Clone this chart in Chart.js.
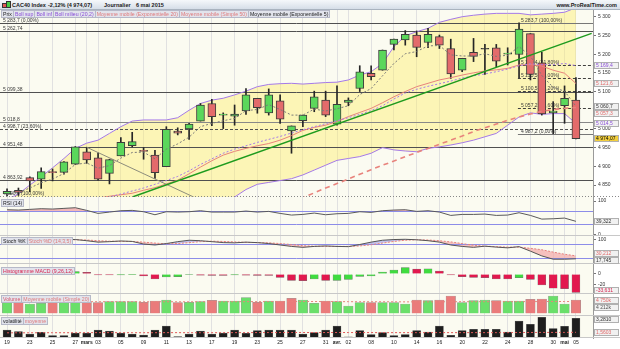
<!DOCTYPE html>
<html>
<head>
<meta charset="utf-8">
<script src="https://cdn.jsdelivr.net/npm/chart.js@4.4.1/dist/chart.umd.min.js"></script>
<style>
  body { margin:0; width:620px; height:349px; overflow:hidden; background:#fff; font-family:"Liberation Sans", Arial, sans-serif; }
  canvas { position:absolute; left:0; }
  #bar { position:absolute; left:0; top:0; width:620px; height:10px; box-sizing:border-box; background:linear-gradient(#f5f8fb,#d6dee8); border-bottom:1px solid #a9b3bf; }
  #bar span { position:absolute; top:2px; font-size:5.5px; line-height:6px; font-weight:bold; color:#1a1a1a; white-space:nowrap; }
  .row { position:absolute; left:1px; display:flex; }
  .tag { font-size:5.2px; line-height:6px; height:6px; padding:0 1px; background:rgba(224,226,236,0.93); border:1px solid #b6b9c8; margin-right:-1px; white-space:nowrap; color:#222; }
  .ic { position:absolute; width:3px; border:1px solid #333; }
</style>
</head>
<body>
<div id="bar">
  <div class="ic" style="left:2px;top:3px;height:3px;background:#e05555"></div>
  <div class="ic" style="left:6px;top:1px;height:5px;background:#44cc44"></div>
  <span style="left:12px">CAC40 Index</span>
  <span style="left:48px">-2,12% (4 974,07)</span>
  <span style="left:104px">Journalier</span>
  <span style="left:136px">6 mai 2015</span>
  <span style="right:3px;font-size:5.5px">www.ProRealTime.com</span>
</div>
<canvas id="cPrice" style="top:10px" width="620" height="187"></canvas>
<canvas id="cRsi" style="top:197px" width="620" height="39"></canvas>
<canvas id="cStoch" style="top:236px" width="620" height="28"></canvas>
<canvas id="cMacd" style="top:264px" width="620" height="30"></canvas>
<canvas id="cVol" style="top:294px" width="620" height="22"></canvas>
<canvas id="cVolat" style="top:316px" width="620" height="33"></canvas>

<div class="row" style="top:10px">
  <span class="tag">Prix</span>
  <span class="tag" style="color:#8a4fd6">Boll sup</span>
  <span class="tag" style="color:#8a4fd6">Boll inf</span>
  <span class="tag" style="color:#8a4fd6">Boll milieu (20,2)</span>
  <span class="tag" style="color:#e07a7a">Moyenne mobile (Exponentielle 20)</span>
  <span class="tag" style="color:#e07a7a">Moyenne mobile (Simple 50)</span>
  <span class="tag">Moyenne mobile (Exponentielle 5)</span>
</div>
<div class="row" style="top:199px"><span class="tag">RSI (14)</span></div>
<div class="row" style="top:237px"><span class="tag">Stoch %K</span><span class="tag" style="color:#e07a7a">Stoch %D (14,3,5)</span></div>
<div class="row" style="top:267px"><span class="tag" style="color:#d8244f">Histogramme MACD (9,26,12)</span></div>
<div class="row" style="top:295px"><span class="tag" style="color:#d8566a">Volume</span><span class="tag" style="color:#e07a7a">Moyenne mobile (Simple 20)</span></div>
<div class="row" style="top:317px"><span class="tag">volatilité</span><span class="tag" style="color:#e07a7a">moyenne</span></div>

<script>
// axe des dates (index de séance -> libellé)
const tickIdx = [0, 2, 4, 6, 7, 8, 10, 12, 14, 16, 18, 20, 22, 24, 26, 28, 29, 30, 32, 34, 36, 38, 40, 42, 44, 46, 48, 49, 50];
const tickLabels = ['19', '23', '25', '27', 'mars', '03', '05', '09', '11', '13', '17', '19', '23', '25', '27', '31', 'avr.', '02', '08', '10', '14', '16', '20', '22', '24', '28', '30', 'mai', '05'];

// bougies CAC40, 19 fév. -> 5 mai 2015
const open  = [4826, 4836, 4870, 4866, 4884, 4884, 4906, 4939, 4923, 4881, 4928, 4955, 4941, 4930, 4899, 4994, 5000, 5021, 5068, 5037, 5034, 5048, 5082, 5043, 5075, 4995, 5022, 5055, 5077, 5013, 5071, 5108, 5149, 5157, 5226, 5238, 5251, 5231, 5247, 5215, 5157, 5205, 5213, 5217, 5200, 5199, 5255, 5177, 5043, 5062, 5077];
const high  = [4840, 4842, 4872, 4896, 4893, 4913, 4953, 4951, 4936, 4919, 4977, 4991, 4950, 4943, 5006, 5003, 5015, 5068, 5079, 5043, 5064, 5108, 5082, 5107, 5091, 5008, 5037, 5101, 5101, 5115, 5083, 5169, 5169, 5211, 5240, 5263, 5262, 5269, 5251, 5240, 5189, 5242, 5226, 5226, 5217, 5283.7, 5255, 5205, 5073, 5115, 5137];
const low   = [4821, 4822, 4832, 4841, 4861, 4879, 4905, 4908, 4863, 4853, 4928, 4952, 4919, 4868, 4899, 4984, 4972, 5021, 5009, 5001, 5010, 5039, 5042, 5037, 5015, 4935, 5006, 5046, 5033, 5010, 5062, 5100, 5131, 5157, 5211, 5224, 5193, 5217, 5215, 5135, 5153, 5180, 5146, 5166, 5171, 5137, 5131, 5037, 4987.2, 5015, 4973];
const close = [4833, 4830, 4861, 4886, 4883, 4912, 4952, 4917, 4866, 4918, 4964, 4966, 4940, 4883, 4999, 4989, 5013, 5064, 5033, 5038, 5040, 5091, 5057, 5091, 5026, 5008, 5037, 5086, 5037, 5066, 5077, 5153, 5140, 5211, 5240, 5253, 5218, 5253, 5224, 5147, 5189, 5194, 5213, 5181, 5202, 5267, 5146, 5040, 5048, 5082, 4974.07];

// indicateurs
const bbUp  = [4812, 4826, 4850, 4872, 4896, 4921, 4948, 4962, 4970, 4988, 5006, 5021, 5024, 5024, 5024, 5030, 5050, 5068, 5077, 5082, 5091, 5101, 5113, 5119, 5121, 5122, 5120, 5122, 5124, 5125, 5131, 5144, 5153, 5175, 5220, 5249, 5260, 5269, 5285, 5293, 5300, 5304, 5307, 5309, 5309, 5309, 5305, 5307, 5309, 5312, 5324];
const bbMid = [4745, 4752, 4760, 4768, 4776, 4786, 4796, 4803, 4810, 4818, 4826, 4834, 4842, 4852, 4862, 4873, 4888, 4905, 4920, 4935, 4946, 4955, 4964, 4972, 4980, 4989, 4998, 5006, 5014, 5022, 5030, 5039, 5049, 5062, 5080, 5096, 5106, 5114, 5121, 5128, 5136, 5142, 5147, 5153, 5160, 5169, 5174, 5172, 5172, 5175, 5169.4];
const bbLow = [4650, 4655, 4660, 4662, 4665, 4668, 4672, 4680, 4690, 4700, 4710, 4722, 4735, 4748, 4760, 4772, 4780, 4790, 4800, 4808, 4818, 4838, 4852, 4857, 4862, 4867, 4877, 4890, 4903, 4916, 4921, 4926, 4935, 4950, 4944, 4941, 4939, 4948, 4952, 4957, 4963, 4970, 4979, 4988, 5010, 5032, 5043, 5039, 5041, 5041, 5014.5];
const ema20 = [4752, 4760, 4770, 4780, 4789, 4799, 4804, 4810, 4815, 4820, 4824, 4828, 4836, 4843, 4853, 4863, 4880, 4898, 4915, 4930, 4940, 4948, 4955, 4961, 4970, 4982, 4996, 5004, 5010, 5020, 5033, 5044, 5055, 5070, 5086, 5100, 5113, 5122, 5131, 5137, 5144, 5150, 5155, 5158, 5162, 5171, 5172, 5168, 5157, 5149, 5121.6];
const sma50 = [4505, 4517, 4529, 4541, 4553, 4565, 4577, 4589, 4601, 4613, 4625, 4637, 4649, 4661, 4673, 4685, 4697, 4709, 4721, 4733, 4745, 4757, 4769, 4781, 4793, 4805, 4816, 4829, 4842, 4854, 4866, 4879, 4891, 4903, 4914, 4926, 4937, 4948, 4959, 4970, 4981, 4993, 5003, 5013, 5023, 5032, 5040, 5047, 5052, 5055, 5057.3];
const ema5  = [4825, 4830, 4842, 4856, 4866, 4881, 4905, 4909, 4895, 4902, 4922, 4937, 4938, 4920, 4946, 4960, 4978, 5006, 5015, 5022, 5028, 5049, 5052, 5065, 5052, 5037, 5037, 5053, 5048, 5054, 5062, 5092, 5108, 5142, 5175, 5201, 5207, 5222, 5223, 5198, 5195, 5195, 5201, 5194, 5197, 5220, 5195, 5143, 5111, 5101, 5060.7];

// tracés manuels (index, cours)
const greenTrend = [[11.08, 4818.7], [51.38, 5255.6]];
const greyTrend  = [[7, 4951], [16.4, 4818]];
const levels = [5283.7, 5262.74, 5099.38, 5018.8, 4998.7, 4951.48, 4863.92, 4820.4];
const levelLabels = ['5 283,7 (0,00%)', '5 262,74', '5 099,38', '5 018,8', '4 998,7 (23,60%)', '4 951,48', '4 863,92', '4 820,4 (100,00%)'];
const fibStart = 44.9;
const fibLevels = [5283.7, 5170.4, 5135.5, 5100.5, 5057.2, 4987.2];
const fibLabels = ['5 283,7 (100,00%)', '5 170,4 (61,80%)', '5 135,5 (50,00%)', '5 100,5 (38,20%)', '5 057,2 (23,60%)', '4 987,2 (0,00%)'];

const rsi    = [74, 73, 75, 77, 76, 78, 80, 72, 63, 67, 71, 72, 68, 59, 68, 67, 68, 71, 67, 67, 67, 70, 67, 69, 63, 58, 60, 64, 59, 62, 63, 68, 66, 71, 73, 74, 69, 71, 67, 57, 60, 60, 61, 57, 58, 65, 57, 46, 47, 49, 39.322];
const stochK = [95, 97, 99, 98, 97, 100, 99, 94, 88, 90, 93, 91, 80, 76, 82, 90, 96, 94, 90, 86, 85, 88, 86, 82, 76, 70, 66, 70, 72, 70, 69, 78, 88, 96, 99, 100, 98, 94, 88, 76, 70, 66, 71, 67, 64, 69, 50, 30, 16, 16, 17.745];
const stochD = [94, 95, 96, 97, 98, 98, 98, 97, 94, 92, 91, 91, 88, 84, 81, 82, 86, 90, 92, 91, 89, 87, 86, 85, 82, 78, 73, 71, 70, 70, 70, 72, 77, 84, 91, 96, 98, 97, 94, 89, 82, 75, 71, 69, 67, 67, 62, 56, 46, 37, 30.212];
const macd   = [1.5, 1.0, 1.8, 2.4, 2.6, 3.2, 4.2, 3.0, -1.8, -1.8, -1.5, -1.2, -3.6, -9.1, -5.5, -4.8, -1.0, -2.0, -2.6, -2.8, -1.5, -2.2, -2.4, -2.8, -6.1, -11.5, -12.1, -9.1, -11.8, -11.5, -9.7, -4.2, -3.6, 3.6, 7.3, 11.5, 9.0, 9.4, 5.5, -1.8, -4.8, -6.1, -6.7, -9.1, -9.1, -6.7, -9.7, -20, -26, -26.5, -33.631];
const volume = [4155, 4155, 3321, 3560, 3798, 3798, 4155, 3917, 3798, 4155, 4155, 4155, 3917, 4393, 4750, 3798, 3917, 4155, 4631, 4393, 4393, 5583, 3917, 4393, 4393, 5345, 4750, 3560, 4393, 4155, 2607, 3798, 3798, 3798, 3798, 3321, 4750, 4512, 4750, 6179, 3798, 4512, 4750, 4512, 4393, 4393, 4988, 5107, 6179, 3321, 4750];
const volumeMa = [4200, 4190, 4180, 4170, 4160, 4160, 4150, 4150, 4140, 4140, 4130, 4130, 4120, 4120, 4130, 4120, 4110, 4120, 4130, 4140, 4140, 4170, 4170, 4180, 4190, 4200, 4210, 4200, 4200, 4190, 4150, 4140, 4130, 4120, 4110, 4080, 4090, 4090, 4100, 4150, 4140, 4150, 4150, 4160, 4160, 4170, 4180, 4190, 4230, 4200, 4212];
const volat  = [1.84, 1.64, 1.35, 1.56, 1.15, 1.15, 1.48, 1.48, 1.84, 1.72, 1.48, 1.35, 1.23, 1.84, 2.34, 1.03, 1.35, 1.72, 1.35, 1.48, 1.84, 1.44, 1.76, 1.84, 1.84, 1.84, 1.35, 1.52, 1.84, 2.34, 0.99, 1.76, 1.27, 1.52, 1.15, 1.27, 1.76, 1.60, 2.34, 1.19, 1.76, 1.93, 1.93, 1.93, 1.60, 2.95, 2.54, 3.40, 2.01, 2.29, 3.281];
const volatAvg = [1.50, 1.50, 1.50, 1.51, 1.51, 1.51, 1.51, 1.52, 1.52, 1.52, 1.52, 1.51, 1.51, 1.51, 1.52, 1.52, 1.51, 1.51, 1.51, 1.52, 1.52, 1.52, 1.53, 1.53, 1.53, 1.54, 1.54, 1.53, 1.53, 1.54, 1.53, 1.53, 1.53, 1.52, 1.52, 1.52, 1.52, 1.52, 1.53, 1.52, 1.52, 1.52, 1.52, 1.52, 1.52, 1.54, 1.54, 1.55, 1.55, 1.55, 1.5603];

const FONT = '"Liberation Sans", Arial, sans-serif';
const PURPLE = '#a57ae8', SALMON = '#e8837c', GREEN = '#5bd75b', RED = '#e36b6b';
Chart.defaults.font.family = FONT;
Chart.defaults.font.size = 5;

function fr(v, d) {
  const s = Math.abs(v).toFixed(d).split('.');
  s[0] = s[0].replace(/\B(?=(\d{3})+(?!\d))/g, ' ');
  return (v < 0 ? '-' : '') + s.join(',');
}
const pts = arr => arr.map((y, x) => ({ x, y }));
const last = arr => arr[arr.length - 1];

// fond, lignes horizontales, étiquettes et cadres de valeurs
const decor = {
  id: 'decor',
  beforeDraw(chart, args, o) {
    const { ctx, chartArea: a } = chart;
    ctx.save();
    ctx.fillStyle = '#fff';
    ctx.fillRect(0, 0, chart.width, chart.height);
    ctx.fillStyle = '#fbfbf1';
    ctx.fillRect(a.left, a.top, a.right - a.left, a.bottom - a.top);
    ctx.restore();
  },
  beforeDatasetsDraw(chart, args, o) {
    const { ctx, chartArea: a, scales: { x, y } } = chart;
    ctx.save();
    ctx.beginPath();
    ctx.rect(a.left, a.top, a.right - a.left, a.bottom - a.top);
    ctx.clip();
    (o.lines || []).forEach(l => {
      const py = Math.round(y.getPixelForValue(l.v)) + 0.5;
      const x0 = l.from != null ? x.getPixelForValue(l.from) : a.left;
      ctx.strokeStyle = l.color || '#555';
      ctx.lineWidth = l.width || 1;
      ctx.setLineDash(l.dash || []);
      ctx.beginPath();
      ctx.moveTo(x0, py);
      ctx.lineTo(a.right, py);
      ctx.stroke();
      if (l.text) {
        ctx.fillStyle = '#3a3a3a';
        ctx.font = '5px ' + FONT;
        ctx.textBaseline = 'bottom';
        ctx.fillText(l.text, x0 + 3, py - 0.5);
      }
    });
    ctx.restore();
  },
  afterDraw(chart, args, o) {
    const { ctx, chartArea: a, scales: { y } } = chart;
    ctx.save();
    if (o.border) {
      ctx.strokeStyle = o.border.color;
      ctx.setLineDash(o.border.dash || []);
      ctx.beginPath();
      ctx.moveTo(0, a.bottom - 0.5);
      ctx.lineTo(chart.width, a.bottom - 0.5);
      ctx.stroke();
      ctx.setLineDash([]);
    }
    const boxes = (o.boxes || []).map(b => ({ ...b, py: y.getPixelForValue(b.v) }))
      .sort((p, q) => p.py - q.py);
    boxes.forEach((b, i) => {
      b.py = Math.min(Math.max(b.py, a.top + 3.5), a.bottom - 3.5);
      if (i && b.py < boxes[i - 1].py + 7) b.py = boxes[i - 1].py + 7;
    });
    for (let i = boxes.length - 1; i >= 0; i--) {
      const lim = i === boxes.length - 1 ? a.bottom - 3.5 : boxes[i + 1].py - 7;
      if (boxes[i].py > lim) boxes[i].py = lim;
    }
    boxes.forEach(b => {
      const top = Math.round(b.py - 3.5);
      ctx.fillStyle = b.bg || '#f1f1f1';
      ctx.fillRect(a.right + 1, top, 25, 7);
      ctx.strokeStyle = '#b0b0b0';
      ctx.lineWidth = 1;
      ctx.strokeRect(a.right + 1.5, top + 0.5, 24, 6);
      ctx.fillStyle = b.c;
      ctx.font = '5px ' + FONT;
      ctx.textBaseline = 'middle';
      ctx.fillText(b.t, a.right + 3, top + 3.8);
    });
    ctx.restore();
  }
};
Chart.register(decor);

function xAxis(labels) {
  return {
    type: 'linear', min: -0.62, max: 51.5, offset: false,
    afterBuildTicks: s => { s.ticks = tickIdx.map(v => ({ value: v })); },
    afterFit: s => { s.height = labels ? 11 : 0; s.paddingLeft = 0; s.paddingRight = 0; },
    grid: { color: '#e1e1e1', drawTicks: false, offset: false },
    border: { display: false },
    ticks: {
      display: labels, autoSkip: false, maxRotation: 0, padding: 2, color: '#222',
      font: c => ({ family: FONT, size: 5, weight: /[a-z]/.test(tickLabels[c.index] || '') ? 'bold' : 'normal' }),
      callback: (v, i) => tickLabels[i]
    }
  };
}
function yAxis(min, max, ticks, fmt) {
  return {
    position: 'right', min, max,
    afterBuildTicks: s => { s.ticks = ticks.map(v => ({ value: v })); },
    afterFit: s => { s.width = 27; s.paddingTop = 0; s.paddingBottom = 0; },
    grid: { drawOnChartArea: false, tickLength: 3, tickColor: '#777' },
    border: { color: '#9a9a9a' },
    ticks: { display: ticks.length > 0, font: { size: 5 }, color: '#333', padding: 2, callback: fmt }
  };
}
function base(yScale, decorOpts, showLabels) {
  return {
    responsive: false, animation: false, events: [],
    layout: { padding: 0 },
    plugins: { legend: { display: false }, tooltip: { enabled: false }, filler: { drawTime: 'beforeDatasetsDraw' }, decor: decorOpts },
    scales: { x: xAxis(showLabels), y: yScale }
  };
}

// ---- prix ----
const bodyColor = open.map((o, i) => close[i] > o ? GREEN : close[i] < o ? RED : '#333');
const priceLines = levels.map((v, i) => ({ v, text: levelLabels[i], color: i === 3 ? '#888' : '#505050', dash: i === 4 ? [3, 2] : i === 7 ? [1, 2] : [] }))
  .concat(fibLevels.map((v, i) => ({ v, from: fibStart, text: fibLabels[i], color: i === 0 || i === 5 ? '#777' : '#404040', dash: i === 0 || i === 5 ? [] : [3, 2] })));
const priceBoxes = [
  { v: last(bbMid), t: fr(last(bbMid), 1), c: '#8a4fd6' },
  { v: last(ema20), t: fr(last(ema20), 1), c: '#e06a6a' },
  { v: last(ema5), t: fr(last(ema5), 1), c: '#333' },
  { v: last(sma50), t: fr(last(sma50), 1), c: '#e06a6a' },
  { v: last(bbLow), t: fr(last(bbLow), 1), c: '#8a4fd6' },
  { v: last(close), t: fr(last(close), 2), c: '#000', bg: '#f2cf3e' }
];
const line = (data, color, extra) => Object.assign({ type: 'line', data, borderColor: color, borderWidth: 1, pointRadius: 0, fill: false, order: 5 }, extra);

new Chart(document.getElementById('cPrice'), {
  type: 'bar',
  data: { datasets: [
    line(pts(bbUp), PURPLE, { fill: '+1', backgroundColor: 'rgba(252,238,110,0.45)', order: 20 }),
    line(pts(bbLow), PURPLE, { order: 19 }),
    { data: open.map((o, i) => ({ x: i, y: [low[i], high[i]] })), backgroundColor: '#262626', barThickness: 1, grouped: false, order: 12 },
    { data: open.map((o, i) => ({ x: i, y: [o, close[i]] })), backgroundColor: bodyColor, borderColor: '#3c3c3c', borderWidth: 1, borderSkipped: false, barThickness: 8, minBarLength: 1, grouped: false, order: 11 },
    line(pts(bbMid), PURPLE, { borderDash: [2, 2] }),
    line(pts(ema20), SALMON),
    line(pts(sma50), SALMON, { borderWidth: 1.6, borderDash: [5, 4] }),
    line(pts(ema5), '#7a7a7a', { borderDash: [2, 2] }),
    line(greenTrend.map(([x, y]) => ({ x, y })), '#1e9b1e', { borderWidth: 1.5, order: 4 }),
    line(greyTrend.map(([x, y]) => ({ x, y })), '#8c8c7c', { order: 4 })
  ] },
  options: base(yAxis(4818, 5318, [4850, 4900, 4950, 5000, 5050, 5100, 5150, 5200, 5250, 5300], v => fr(v, 0)),
    { lines: priceLines, boxes: priceBoxes, border: { color: '#888', dash: [1, 2] } }, false)
});

// ---- RSI ----
new Chart(document.getElementById('cRsi'), {
  type: 'line',
  data: { datasets: [
    line(pts(rsi), '#5a5a5a', { fill: { value: 70, above: '#f2b8b8', below: 'rgba(0,0,0,0)' } })
  ] },
  options: base(yAxis(-4.5, 112, [0, 100], v => String(v)),
    { lines: [{ v: 70, color: '#8c8ce8' }, { v: 30, color: '#8c8ce8' }], boxes: [{ v: last(rsi), t: fr(last(rsi), 3), c: '#333' }], border: { color: '#c8c8c8' } }, false)
});

// ---- Stochastique ----
new Chart(document.getElementById('cStoch'), {
  type: 'line',
  data: { datasets: [
    line(pts(stochK), '#555', { fill: { target: '+1', above: 'rgba(150,150,235,0.55)', below: 'rgba(244,168,168,0.7)' } }),
    line(pts(stochD), SALMON, { borderDash: [2, 1.5] })
  ] },
  options: base(yAxis(-4.2, 113.9, [100], v => String(v)),
    { lines: [{ v: 80, color: '#8c8ce8' }, { v: 20, color: '#8c8ce8' }],
      boxes: [{ v: last(stochD), t: fr(last(stochD), 3), c: '#e06a6a' }, { v: last(stochK), t: fr(last(stochK), 3), c: '#333' }],
      border: { color: '#c8c8c8' } }, false)
});

// ---- MACD ----
const macdColor = macd.map((v, i) => i === 0 || v > macd[i - 1] ? '#3fdc3f' : '#e2184e');
new Chart(document.getElementById('cMacd'), {
  type: 'bar',
  data: { datasets: [
    { data: pts(macd), backgroundColor: macdColor, borderColor: '#777', borderWidth: 0.5, barThickness: 8, grouped: false }
  ] },
  options: base(yAxis(-36.4, 18.2, [-20, 0], v => String(v)),
    { boxes: [{ v: last(macd), t: fr(last(macd), 3), c: '#d8244f' }], border: { color: '#c8c8c8' } }, false)
});

// ---- Volume ----
const volColor = close.map((c, i) => i === 0 || c >= close[i - 1] ? '#6adf6a' : '#ea7b7b');
new Chart(document.getElementById('cVol'), {
  type: 'bar',
  data: { datasets: [
    line(pts(volumeMa), SALMON, { borderDash: [2, 2], order: 1 }),
    { data: pts(volume), backgroundColor: volColor, borderColor: '#9a9a9a', borderWidth: 0.5, barThickness: 9.5, grouped: false, order: 2 }
  ] },
  options: base(yAxis(-964, 6893, [], v => ''),
    { boxes: [{ v: last(volume), t: fr(last(volume), 0) + 'k', c: '#e06a6a' }, { v: last(volumeMa), t: fr(last(volumeMa), 0) + 'k', c: '#555' }], border: { color: '#c8c8c8' } }, false)
});

// ---- Volatilité ----
new Chart(document.getElementById('cVolat'), {
  type: 'bar',
  data: { datasets: [
    line(pts(volatAvg), '#e05a5a', { borderDash: [2, 2], order: 1 }),
    { data: pts(volat), backgroundColor: '#1e1e1e', borderColor: '#666', borderWidth: 0.5, barThickness: 8, grouped: false, order: 2 }
  ] },
  options: base(yAxis(0.861, 3.564, [], v => ''),
    { boxes: [{ v: last(volat), t: fr(last(volat), 4), c: '#333' }, { v: last(volatAvg), t: fr(last(volatAvg), 4), c: '#e06a6a' }], border: { color: '#c8c8c8' } }, true)
});
</script>
</body>
</html>
